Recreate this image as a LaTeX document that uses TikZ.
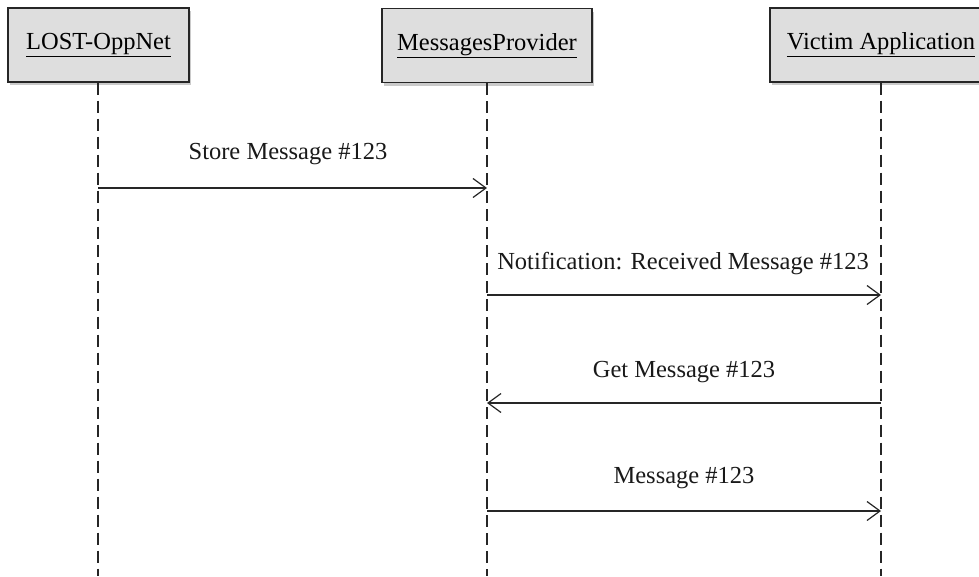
\documentclass[tikz,border=0pt]{standalone}
\usepackage{fontspec}
\setmainfont{Liberation Serif}
\usetikzlibrary{arrows.meta,shadows}
\begin{document}
\begin{tikzpicture}[x=1pt,y=-1pt,
  actor/.style={draw=black!85, line width=1.2pt, fill=black!13, minimum height=74pt, inner sep=0pt,
    font=\fontsize{24.5}{29}\selectfont,
    drop shadow={shadow xshift=1.5pt, shadow yshift=-3pt, fill=black!35, opacity=0.6}},
  lifeline/.style={draw=black!85, line width=1.2pt, dash pattern=on 12pt off 6pt},
  msg/.style={draw=black!85, line width=1.2pt, -{Straight Barb[length=13pt,width=19pt,line width=1.2pt]}},
  lbl/.style={font=\fontsize{24.5}{29}\selectfont, text=black!90}]
\useasboundingbox (0,0) rectangle (979,576);
\clip (0,0) rectangle (979,576);
\node[actor, minimum width=181pt] (a) at (98.5,45) {\underline{LOST-OppNet}};
\node[actor, minimum width=210pt] (b) at (487,45.5) {\underline{MessagesProvider}};
\node[actor, minimum width=222pt] (c) at (881,45) {\underline{Victim Application}};
\coordinate (ae) at (98,576);
\coordinate (be) at (487,576);
\coordinate (ce) at (881,576);
\draw[lifeline] (a.south -| ae) -- (ae);
\draw[lifeline] (b.south -| be) -- (be);
\draw[lifeline] (c.south -| ce) -- (ce);
\coordinate (m1a) at (98,188);
\coordinate (m1b) at (487,188);
\coordinate (m2a) at (487,295);
\coordinate (m2b) at (881,295);
\coordinate (m3a) at (881,403);
\coordinate (m3b) at (487,403);
\coordinate (m4a) at (487,511);
\coordinate (m4b) at (881,511);
\draw[msg] (m1a) -- (m1b);
\draw[msg] (m2a) -- (m2b);
\draw[msg] (m3a) -- (m3b);
\draw[msg] (m4a) -- (m4b);
\node[lbl] (t1) at (288,154) {Store Message \#123};
\node[lbl] (t2) at (683,264) {Notification: Received Message \#123};
\node[lbl] (t3) at (684,372) {Get Message \#123};
\node[lbl] (t4) at (684,478) {Message \#123};
\end{tikzpicture}
\end{document}
